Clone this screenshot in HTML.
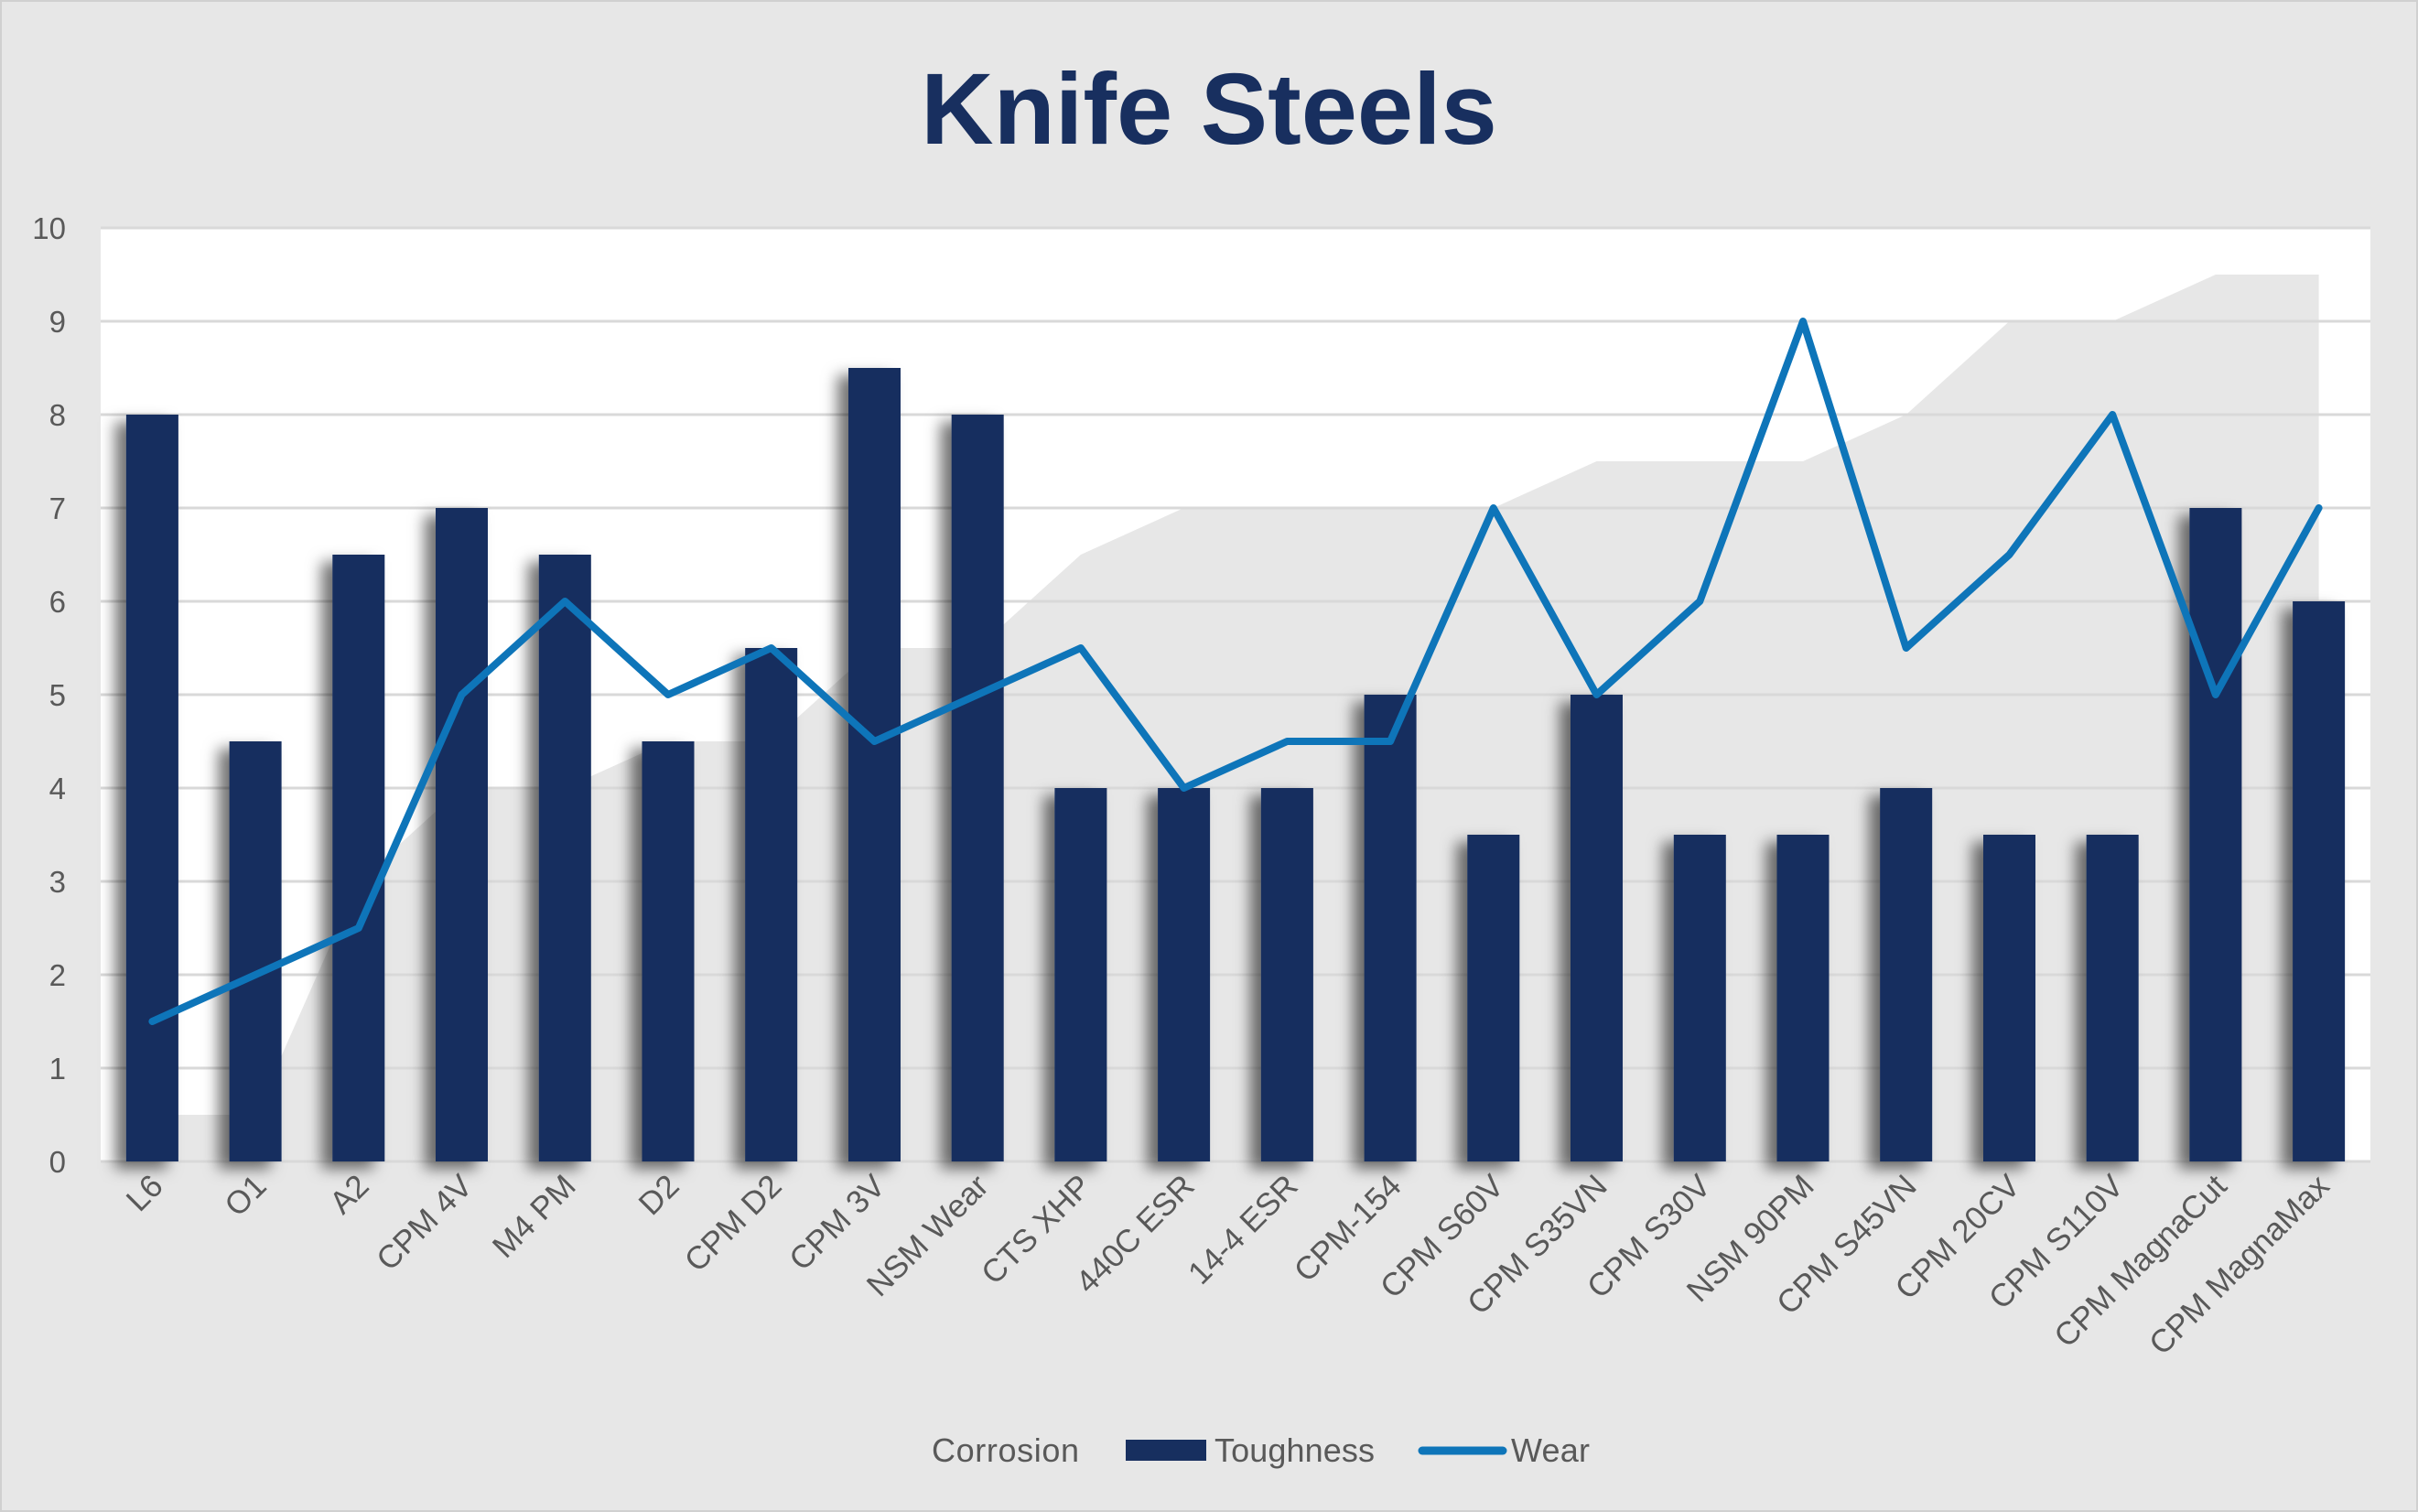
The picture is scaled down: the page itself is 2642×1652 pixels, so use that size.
<!DOCTYPE html>
<html><head><meta charset="utf-8"><style>html,body{margin:0;padding:0;background:#e7e7e7}svg{display:block}</style></head><body>
<svg width="2642" height="1652" viewBox="0 0 2642 1652" xmlns="http://www.w3.org/2000/svg" font-family="Liberation Sans, sans-serif">
<defs><filter id="sh" x="-50%" y="-10%" width="200%" height="120%"><feDropShadow dx="-12" dy="8" stdDeviation="8" flood-color="#000" flood-opacity="0.55"/></filter></defs>
<rect x="0" y="0" width="2642" height="1652" fill="#e7e7e7" stroke="#d0d0d0" stroke-width="4"/>
<text x="1321" y="157" text-anchor="middle" font-size="110" font-weight="bold" fill="#182f5f">Knife Steels</text>
<rect x="110" y="249" width="2480" height="1020" fill="#fff"/>
<polygon fill="#e7e7e7" points="166.4,1269 166.4,1218 279.1,1218 391.8,963 504.5,861 617.3,861 730,810 842.7,810 955.5,708 1068.2,708 1180.9,606 1293.6,555 1406.4,555 1519.1,555 1631.8,555 1744.5,504 1857.3,504 1970,504 2082.7,453 2195.5,351 2308.2,351 2420.9,300 2533.6,300 2533.6,1269"/>
<g stroke="#d9d9d9" stroke-width="3">
<line x1="110" y1="249" x2="2590" y2="249"/><line x1="110" y1="351" x2="2590" y2="351"/><line x1="110" y1="453" x2="2590" y2="453"/><line x1="110" y1="555" x2="2590" y2="555"/><line x1="110" y1="657" x2="2590" y2="657"/><line x1="110" y1="759" x2="2590" y2="759"/><line x1="110" y1="861" x2="2590" y2="861"/><line x1="110" y1="963" x2="2590" y2="963"/><line x1="110" y1="1065" x2="2590" y2="1065"/><line x1="110" y1="1167" x2="2590" y2="1167"/><line x1="110" y1="1269" x2="2590" y2="1269"/>
</g>
<g fill="#172f5f" filter="url(#sh)">
<rect x="137.9" y="453" width="57" height="816"/>
<rect x="250.6" y="810" width="57" height="459"/>
<rect x="363.3" y="606" width="57" height="663"/>
<rect x="476" y="555" width="57" height="714"/>
<rect x="588.8" y="606" width="57" height="663"/>
<rect x="701.5" y="810" width="57" height="459"/>
<rect x="814.2" y="708" width="57" height="561"/>
<rect x="927" y="402" width="57" height="867"/>
<rect x="1039.7" y="453" width="57" height="816"/>
<rect x="1152.4" y="861" width="57" height="408"/>
<rect x="1265.1" y="861" width="57" height="408"/>
<rect x="1377.9" y="861" width="57" height="408"/>
<rect x="1490.6" y="759" width="57" height="510"/>
<rect x="1603.3" y="912" width="57" height="357"/>
<rect x="1716" y="759" width="57" height="510"/>
<rect x="1828.8" y="912" width="57" height="357"/>
<rect x="1941.5" y="912" width="57" height="357"/>
<rect x="2054.2" y="861" width="57" height="408"/>
<rect x="2167" y="912" width="57" height="357"/>
<rect x="2279.7" y="912" width="57" height="357"/>
<rect x="2392.4" y="555" width="57" height="714"/>
<rect x="2505.1" y="657" width="57" height="612"/>
</g>
<polyline fill="none" stroke="#0e75b9" stroke-width="8" stroke-linejoin="round" stroke-linecap="round" points="166.4,1116 279.1,1065 391.8,1014 504.5,759 617.3,657 730,759 842.7,708 955.5,810 1068.2,759 1180.9,708 1293.6,861 1406.4,810 1519.1,810 1631.8,555 1744.5,759 1857.3,657 1970,351 2082.7,708 2195.5,606 2308.2,453 2420.9,759 2533.6,555"/>
<g font-size="33" fill="#595959" text-anchor="end">
<text x="72" y="261">10</text><text x="72" y="363">9</text><text x="72" y="465">8</text><text x="72" y="567">7</text><text x="72" y="669">6</text><text x="72" y="771">5</text><text x="72" y="873">4</text><text x="72" y="975">3</text><text x="72" y="1077">2</text><text x="72" y="1179">1</text><text x="72" y="1281">0</text>
</g>
<g font-size="35" fill="#595959" text-anchor="end">
<text transform="translate(180,1298) rotate(-45)">L6</text>
<text transform="translate(293,1298) rotate(-45)">O1</text>
<text transform="translate(405,1298) rotate(-45)">A2</text>
<text transform="translate(518,1298) rotate(-45)">CPM 4V</text>
<text transform="translate(631,1298) rotate(-45)">M4 PM</text>
<text transform="translate(744,1298) rotate(-45)">D2</text>
<text transform="translate(856,1298) rotate(-45)">CPM D2</text>
<text transform="translate(969,1298) rotate(-45)">CPM 3V</text>
<text transform="translate(1082,1298) rotate(-45)">NSM Wear</text>
<text transform="translate(1194,1298) rotate(-45)">CTS XHP</text>
<text transform="translate(1307,1298) rotate(-45)">440C ESR</text>
<text transform="translate(1420,1298) rotate(-45)">14-4 ESR</text>
<text transform="translate(1533,1298) rotate(-45)">CPM-154</text>
<text transform="translate(1645,1298) rotate(-45)">CPM S60V</text>
<text transform="translate(1758,1298) rotate(-45)">CPM S35VN</text>
<text transform="translate(1871,1298) rotate(-45)">CPM S30V</text>
<text transform="translate(1984,1298) rotate(-45)">NSM 90PM</text>
<text transform="translate(2096,1298) rotate(-45)">CPM S45VN</text>
<text transform="translate(2209,1298) rotate(-45)">CPM 20CV</text>
<text transform="translate(2322,1298) rotate(-45)">CPM S110V</text>
<text transform="translate(2435,1298) rotate(-45)">CPM MagnaCut</text>
<text transform="translate(2547,1298) rotate(-45)">CPM MagnaMax</text>
</g>
<g font-size="36" fill="#595959">
<text x="1018" y="1597" textLength="161">Corrosion</text>
<rect x="1230" y="1573" width="88" height="23" fill="#172f5f"/>
<text x="1327" y="1597" textLength="175">Toughness</text>
<line x1="1554" y1="1585" x2="1642" y2="1585" stroke="#0e75b9" stroke-width="9" stroke-linecap="round"/>
<text x="1651" y="1597" textLength="86">Wear</text>
</g>
</svg>
</body></html>
